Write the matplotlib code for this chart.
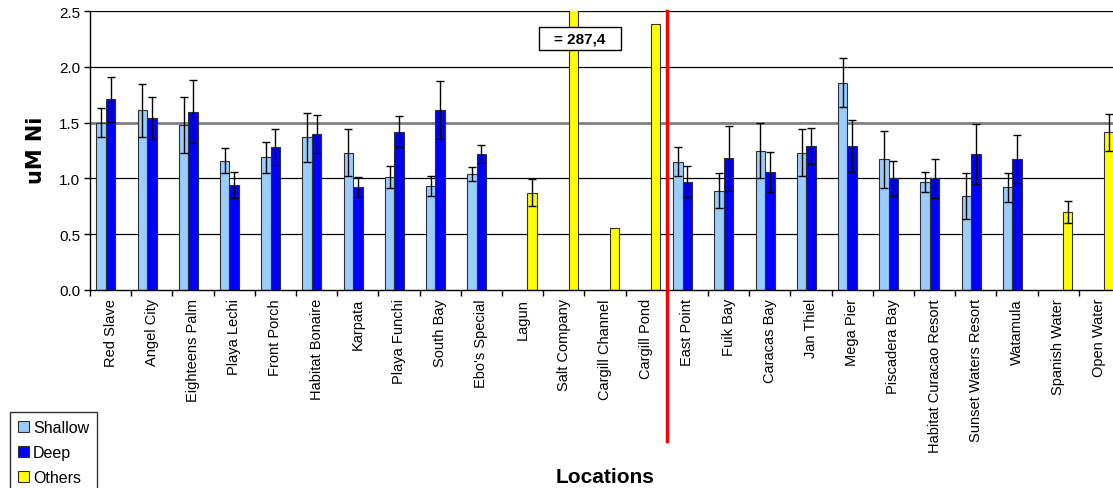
import numpy as np
import matplotlib
matplotlib.use("Agg")
import matplotlib.pyplot as plt
from matplotlib.patches import Patch, Rectangle

plt.rcParams['font.family'] = ['Liberation Sans', 'DejaVu Sans']

locations = ["Red Slave", "Angel City", "Eighteens Palm", "Playa Lechi", "Front Porch",
             "Habitat Bonaire", "Karpata", "Playa Funchi", "South Bay", "Ebo's Special",
             "Lagun", "Salt Company", "Cargill Channel", "Cargill Pond", "East Point",
             "Fuik Bay", "Caracas Bay", "Jan Thiel", "Mega Pier", "Piscadera Bay",
             "Habitat Curacao Resort", "Sunset Waters Resort", "Watamula",
             "Spanish Water", "Open Water"]

nan = np.nan
shallow = [1.50, 1.61, 1.48, 1.16, 1.19, 1.37, 1.23, 1.01, 0.93, 1.04,
           nan, nan, nan, nan, 1.15, 0.89, 1.25, 1.23, 1.86, 1.17,
           0.97, 0.84, 0.92, nan, nan]
shallow_err = [0.13, 0.24, 0.25, 0.11, 0.14, 0.22, 0.21, 0.10, 0.09, 0.06,
               nan, nan, nan, nan, 0.13, 0.155, 0.245, 0.21, 0.22, 0.255,
               0.09, 0.205, 0.13, nan, nan]
deep = [1.71, 1.54, 1.60, 0.94, 1.28, 1.40, 0.92, 1.42, 1.61, 1.22,
        nan, nan, nan, nan, 0.97, 1.18, 1.06, 1.29, 1.29, 1.00,
        1.00, 1.22, 1.17, nan, nan]
deep_err = [0.20, 0.19, 0.28, 0.12, 0.16, 0.17, 0.09, 0.14, 0.26, 0.08,
            nan, nan, nan, nan, 0.14, 0.29, 0.18, 0.16, 0.23, 0.155,
            0.175, 0.27, 0.215, nan, nan]
others = [nan] * 10 + [0.87, 287.4, 0.55, 2.39] + [nan] * 9 + [0.695, 1.415]
others_err = [nan] * 10 + [0.12, nan, nan, nan] + [nan] * 9 + [0.10, 0.165]

series = [("Shallow", shallow, shallow_err, "#99CCFF", -1),
          ("Deep", deep, deep_err, "#0000FF", 0),
          ("Others", others, others_err, "#FFFF00", 1)]

W, H = 1113, 489
fig = plt.figure(figsize=(W / 100, H / 100), dpi=100)
ax = fig.add_axes([90 / W, 1 - 290.7 / H, 1030 / W, 278.4 / H])

x = np.arange(len(locations))
bw = 0.23

for name, vals, errs, color, slot in series:
    v = np.array(vals, dtype=float)
    e = np.array(errs, dtype=float)
    m = ~np.isnan(v)
    xs = x[m] + slot * bw
    ax.bar(xs, v[m], width=bw, color=color, edgecolor="#303030", linewidth=0.8, zorder=2)
    me = m & ~np.isnan(e)
    ax.errorbar(x[me] + slot * bw, v[me], yerr=e[me], fmt="none", ecolor="black",
                elinewidth=1.0, capsize=3, capthick=1.0, zorder=3)

ax.set_xlim(-0.5, len(locations) - 0.5)
ax.set_ylim(0, 2.5)

# horizontal grid
for gy in [0.5, 1.0, 2.0, 2.5]:
    ax.axhline(gy, color="black", lw=0.9, zorder=1)
ax.axhline(1.5, color="#808080", lw=2.0, zorder=1)

ax.set_yticks(np.arange(0, 2.51, 0.5))
ax.set_yticklabels([f"{t:.1f}" for t in np.arange(0, 2.51, 0.5)], fontsize=11)
ax.tick_params(axis="y", direction="out", length=4, width=1, pad=3)

ax.set_xticks(x)
ax.set_xticklabels(locations, rotation=90, fontsize=10.5)
ax.set_xticks(np.arange(-0.5, len(locations), 1.0), minor=True)
ax.tick_params(axis="x", which="major", length=0, pad=6)
ax.tick_params(axis="x", which="minor", direction="out", length=4.5, width=1)

for s in ["top", "right"]:
    ax.spines[s].set_visible(False)
ax.spines["left"].set_linewidth(1.0)
ax.spines["bottom"].set_linewidth(1.0)

# separator between the two islands
ax.plot([13.5, 13.5], [1.0, -0.543], transform=ax.get_xaxis_transform(),
        color="#FF0000", lw=2.5, clip_on=False, zorder=5)

# off-scale value label for Salt Company
salt = locations.index("Salt Company")
ax.add_patch(Rectangle((10.398, 2.155), 1.99, 0.206, facecolor="white",
                       edgecolor="black", lw=1.0, zorder=6, clip_on=False))
ax.text(10.398 + 0.995, 2.258, f"= {others[salt]:.1f}".replace(".", ","),
        ha="center", va="center", fontsize=11, fontweight="bold", zorder=7)

fig.text(35.5 / W, 1 - 150 / H, "uM Ni", rotation=90, ha="center", va="center",
         fontsize=15, fontweight="bold", family=["DejaVu Sans"])
fig.text(605.5 / W, 1 - 483 / H, "Locations", ha="center", va="baseline",
         fontsize=15, fontweight="bold")

handles = [Patch(facecolor=c, edgecolor="#303030", lw=0.8, label=n) for n, _, _, c, _ in series]
leg = fig.legend(handles=handles, loc="upper left", bbox_to_anchor=(10 / W, 1 - 413 / H),
                 bbox_transform=fig.transFigure, fontsize=11.5, frameon=True, fancybox=False,
                 borderaxespad=0, borderpad=0.5, labelspacing=0.62, handlelength=0.69,
                 handleheight=0.69, handletextpad=0.25)
leg.get_frame().set_edgecolor("black")
leg.get_frame().set_linewidth(1.0)

fig.savefig("out.png", dpi=100)
